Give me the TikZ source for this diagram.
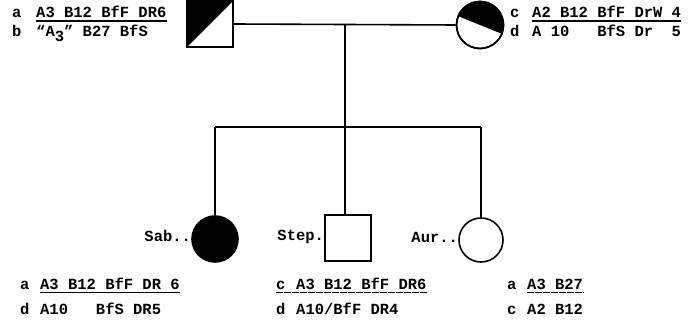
\documentclass[tikz,border=0pt]{standalone}
\usepackage{fontspec}
\setmonofont{Liberation Mono}
\begin{document}
\begin{tikzpicture}[x=1pt,y=1pt,
  txt/.style={font=\ttfamily\bfseries\fontsize{15.5}{16}\selectfont, inner sep=0pt, anchor=base west},
  lbl/.style={font=\ttfamily\bfseries\fontsize{15.5}{16}\selectfont, inner sep=0pt, anchor=mid east},
  male/.style={draw, line width=1.6pt, minimum size=46pt, inner sep=0pt},
  female/.style={draw, circle, line width=1.6pt, minimum size=46pt, inner sep=0pt},
  conn/.style={line width=1.6pt},
  uline/.style={line width=1.1pt},
  bline/.style={line width=1.1pt, dash pattern=on 7pt off 1pt}]
\useasboundingbox (0,0) rectangle (694,-326);
% parents
\node[male] (F) at (210,-24) {};
\fill (F.north west) -- (F.north east) -- (F.south west) -- cycle;
\node[male] (F2) at (210,-24) {};
\node[female, minimum size=47pt] (M) at (480,-25) {};
\fill (M.center) -- ++(-22:23.5) arc[start angle=-22, end angle=158, radius=23.5] -- cycle;
\node[female, minimum size=47pt] (M2) at (480,-25) {};
% children
\node[female, fill=black] (Sab) at (215,-239) {};
\node[male] (Step) at (348,-238) {};
\node[female, minimum size=44pt] (Aur) at (481,-240) {};
% connectors
\coordinate (c1) at (345,-24);
\coordinate (c2) at (345,-127);
\draw[conn] (F2.east) -- (M2.west);
\draw[conn] (c1) -- (c2) -- (c2 |- Step.north);
\draw[conn] (Sab.north |- c2) -- (Aur.north |- c2);
\draw[conn] (Sab.north |- c2) -- (Sab.north);
\draw[conn] (Aur.north |- c2) -- (Aur.north);
% child labels
\node[lbl] (lSab) at (Sab.west) {Sab..};
\node[lbl] (lStep) at (Step.west) {Step.};
\node[lbl] (lAur) at (Aur.west) {Aur..};
% father haplotypes
\node[txt] (fa) at (12,-18) {a};
\node[txt] (fa1) at (36,-18) {A3 B12 BfF DR6};
\node[txt] (fb) at (12,-37) {b};
\node[txt] (fb1) at (36,-37) {“A\raisebox{-5pt}{3}” B27 BfS};
\draw[uline] ([yshift=-3pt]fa1.base west) -- ([yshift=-3pt]fa1.base east);
% mother haplotypes
\node[txt] (mc) at (510,-18) {c};
\node[txt] (mc1) at (532,-18) {A2 B12 BfF DrW 4};
\node[txt] (md) at (510,-37) {d};
\node[txt] (md1) at (532,-37) {A~10~~~BfS~Dr~~5};
\draw[uline] ([yshift=-3pt]mc1.base west) -- ([yshift=-3pt]mc1.base east);
% children haplotypes
\node[txt] (sa) at (20,-289) {a};
\node[txt] (sa1) at (40,-289) {A3 B12 BfF DR 6};
\node[txt] (sd) at (20,-314) {d};
\node[txt] (sd1) at (40,-314) {A10~~~BfS~DR5};
\draw[uline] ([yshift=-3.5pt]sa1.base west) -- ([yshift=-3.5pt]sa1.base east);
\node[txt] (tc) at (276,-289) {c};
\node[txt] (tc1) at (296,-289) {A3 B12 BfF DR6};
\node[txt] (td) at (276,-314) {d};
\node[txt] (td1) at (296,-314) {A10/BfF DR4};
\draw[bline] ([yshift=-3.5pt]tc.base west) -- ([yshift=-3.5pt]tc1.base east);
\node[txt] (ua) at (507,-289) {a};
\node[txt] (ua1) at (527,-289) {A3 B27};
\node[txt] (uc) at (507,-314) {c};
\node[txt] (uc1) at (527,-314) {A2 B12};
\draw[bline] ([yshift=-3.5pt]ua1.base west) -- ([yshift=-3.5pt]ua1.base east);
\end{tikzpicture}
\end{document}
